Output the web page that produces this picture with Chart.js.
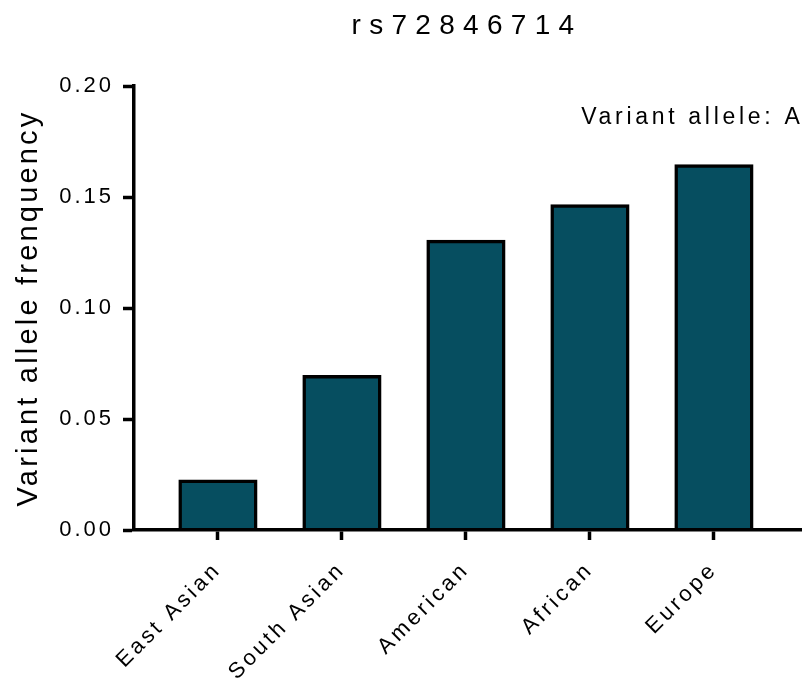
<!DOCTYPE html>
<html><head><meta charset="utf-8">
<script src="https://cdn.jsdelivr.net/npm/chart.js@4"></script>
<style>html,body{margin:0;padding:0;background:#fff}#wrap{width:802px;height:690px}</style>
</head><body><div id="wrap"><canvas id="c"></canvas></div>
<script>
const chartTitle = 'rs72846714';
const yAxisTitle = 'Variant allele frenquency';
const noteText = 'Variant allele: A';
const categories = ['East Asian', 'South Asian', 'American', 'African', 'Europe'];
const frequencies = [0.022, 0.069, 0.130, 0.146, 0.164];
const yTickValues = [0, 0.05, 0.10, 0.15, 0.20];

const FONT = "'Liberation Sans', Arial, sans-serif";

function spaced(fn, px) {
  return function (...args) {
    const c = this.ctx; const prev = c.letterSpacing;
    c.letterSpacing = px;
    try { return fn.apply(this, args); } finally { c.letterSpacing = prev; }
  };
}

const spacingPlugin = {
  id: 'spacing',
  afterUpdate(chart) {
    for (const s of Object.values(chart.scales)) {
      if (!s.__patched) {
        s.drawLabels = spaced(s.drawLabels, s.axis === 'x' ? '3.3px' : '3px');
        s.drawTitle = spaced(s.drawTitle, '3.2px');
        s.__patched = true;
      }
    }
    const t = chart.titleBlock;
    if (t && !t.__patched) {
      const orig = t.draw;
      t.draw = function (...args) {
        const c = this.ctx; const ca = chart.chartArea;
        const dx = (ca.left + ca.right) / 2 - chart.width / 2;
        c.save();
        c.translate(dx, 0);
        c.letterSpacing = '8.3px';
        try { return orig.apply(this, args); } finally { c.restore(); }
      };
      t.__patched = true;
    }
  },
  afterDraw(chart) {
    const { ctx, chartArea } = chart;
    ctx.save();
    ctx.letterSpacing = '3.7px';
    ctx.font = '23px ' + FONT;
    ctx.fillStyle = '#000';
    ctx.textAlign = 'right';
    ctx.textBaseline = 'middle';
    ctx.fillText(noteText, chartArea.right + 2.5, chartArea.top + 32);
    ctx.restore();
  }
};

new Chart(document.getElementById('c'), {
  type: 'bar',
  data: {
    datasets: [{
      data: categories.map((c, i) => ({ x: i, y: frequencies[i] })),
      backgroundColor: '#064e60',
      borderColor: '#000',
      borderWidth: 3.5,
      inflateAmount: 1.75,
      barPercentage: 0.61,
      categoryPercentage: 1
    }]
  },
  options: {
    responsive: true, maintainAspectRatio: false, animation: false,
    layout: { padding: { left: 0, right: 1, top: 0, bottom: 0 } },
    plugins: {
      legend: { display: false }, tooltip: { enabled: false },
      title: {
        display: true, text: chartTitle, color: '#000',
        font: { family: FONT, size: 28, weight: 'normal' },
        padding: { top: 9, bottom: 43.4 }
      }
    },
    scales: {
      x: {
        type: 'linear', min: -0.677, max: 4.702, offset: false,
        afterBuildTicks: s => { s.ticks = categories.map((c, i) => ({ value: i })); },
        grid: { display: true, offset: false, drawOnChartArea: false, drawTicks: true, tickLength: 10, tickWidth: 3.5, tickColor: '#000' },
        border: { display: true, color: '#000', width: 3.5, z: 1 },
        ticks: {
          autoSkip: false, minRotation: 45, maxRotation: 45, padding: 17, color: '#000',
          font: { family: FONT, size: 22 },
          callback: v => categories[v]
        },
        afterFit: s => { s.height = 160; }
      },
      y: {
        min: 0, max: 0.2,
        afterBuildTicks: s => { s.ticks = yTickValues.map(v => ({ value: v })); },
        grid: { offset: false, drawOnChartArea: false, tickLength: 11, tickWidth: 3.5, tickColor: '#000' },
        border: { display: true, color: '#000', width: 3.5, z: 1 },
        ticks: {
          padding: 9, color: '#000', font: { family: FONT, size: 22 },
          callback: v => v.toFixed(2)
        },
        title: {
          display: true, text: yAxisTitle, color: '#000',
          font: { family: FONT, size: 29 }, padding: { top: 12, bottom: 0 }
        },
        afterFit: s => { s.width = 134; }
      }
    }
  },
  plugins: [spacingPlugin]
});
</script>
</body></html>
